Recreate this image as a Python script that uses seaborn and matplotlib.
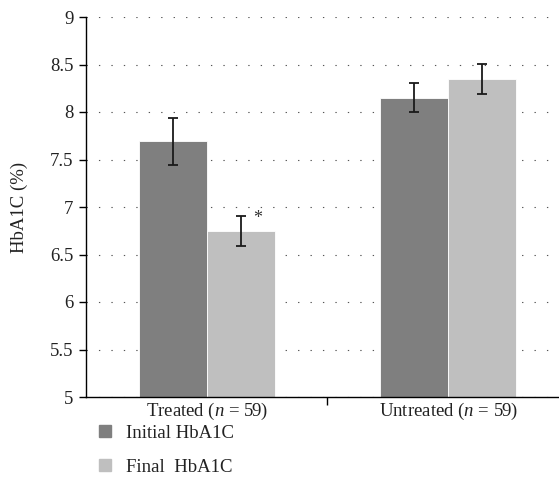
import matplotlib
matplotlib.use("Agg")
import matplotlib.pyplot as plt
import matplotlib.lines as mlines
import pandas as pd
import seaborn as sns

groups = ["Treated ($n$ = 59)", "Untreated ($n$ = 59)"]
series = ["Initial HbA1C", "Final  HbA1C"]
initial_vals = [7.69, 8.15]
final_vals = [6.75, 8.35]
initial_err = [0.25, 0.15]
final_err = [0.16, 0.16]
colors = ["#7f7f7f", "#bfbfbf"]

sns.set_theme(style="white")
plt.rcParams["font.family"] = ["Liberation Serif", "DejaVu Serif"]
plt.rcParams["mathtext.fontset"] = "custom"
plt.rcParams["mathtext.rm"] = "Liberation Serif"
plt.rcParams["mathtext.it"] = "Liberation Serif:italic"

FS = 13.5

df = pd.DataFrame({
    "group": groups * 2,
    "series": [series[0]] * 2 + [series[1]] * 2,
    "value": initial_vals + final_vals,
    "err": initial_err + final_err,
})

fig = plt.figure(figsize=(5.59, 5.0), dpi=100)
ax = fig.add_axes([0.154, 0.206, 0.846, 0.76])

sns.barplot(data=df, x="group", y="value", hue="series", palette=colors,
            width=0.565, errorbar=None, edgecolor="white", linewidth=0.6,
            legend=False, ax=ax, zorder=2)

# error bars at bar centres
bars = [p for p in ax.patches if p.get_height() > 0]
for i, p in enumerate(bars):
    cx = p.get_x() + p.get_width() / 2
    ax.errorbar(cx, df["value"].iloc[i], yerr=df["err"].iloc[i], fmt="none",
                ecolor="#1a1a1a", elinewidth=1.3, capsize=3.8, capthick=1.3, zorder=3)

# significance marker on treated final
p = bars[2]
ax.text(p.get_x() + p.get_width() * 0.75, final_vals[0] + final_err[0] - 0.03, "*",
        ha="center", va="center", fontsize=13, color="#333333")

ax.set_ylim(5, 9)
ax.set_xlim(-0.5, 1.46)
ax.set_yticks([5, 5.5, 6, 6.5, 7, 7.5, 8, 8.5, 9])
ax.set_yticklabels(["5", "5.5", "6", "6.5", "7", "7.5", "8", "8.5", "9"])
ax.yaxis.grid(True, linestyle=(0, (1.2, 10)), color="#555555", linewidth=0.8)
ax.set_axisbelow(True)

for s in ["top", "right"]:
    ax.spines[s].set_visible(False)
for s in ["left", "bottom"]:
    ax.spines[s].set_color("black")
    ax.spines[s].set_linewidth(1.0)

ax.tick_params(axis="y", which="major", direction="out", length=5, width=1,
               color="black", labelsize=FS, left=True, pad=4, labelcolor="#222222")
ax.tick_params(axis="x", which="major", length=0, labelsize=FS, pad=3,
               labelcolor="#222222")
ax.set_xticks([0.5], minor=True)
ax.tick_params(axis="x", which="minor", direction="out", length=6, width=1,
               color="black", bottom=True)

ax.set_xlabel("")
ax.set_ylabel("HbA1C (%)", fontsize=FS, labelpad=16, color="#222222")

handles = [mlines.Line2D([], [], marker="s", linestyle="none", markersize=9,
                         markerfacecolor=c, markeredgecolor=c) for c in colors]
fig.legend(handles, series, loc="upper left", bbox_to_anchor=(0.158, 0.166),
           frameon=False, fontsize=FS, handletextpad=0.6, labelspacing=0.9,
           handlelength=1.0, borderaxespad=0, labelcolor="#222222")

fig.savefig("out.png", dpi=100)
